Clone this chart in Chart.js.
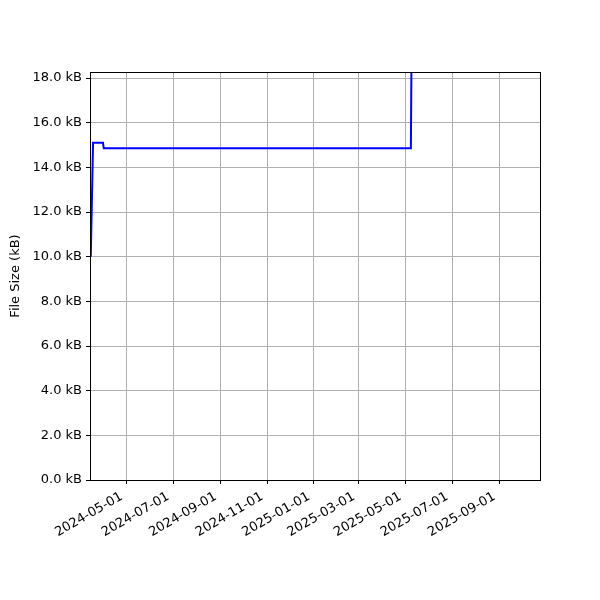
<!DOCTYPE html>
<html lang="en">
<head>
  <meta charset="UTF-8" />
  <title>File Size</title>
  <script src="https://cdn.jsdelivr.net/npm/chart.js"></script>
  <style>
    body { margin: 0; background: #fff; }
    #wrap { width: 600px; height: 600px; }
  </style>
</head>
<body>
  <div id="wrap">
    <canvas id="sizeChart" width="600" height="600"></canvas>
  </div>

  <script>
    // data
    const dates = ['2024-03-15', '2024-03-18', '2024-03-31', '2024-04-01', '2025-05-08', '2025-05-09'];
    const sizesKB = [10.0, 15.1, 15.1, 14.85, 14.85, 20.0];
    const tickDates = ['2024-05-01', '2024-07-01', '2024-09-01', '2024-11-01', '2025-01-01',
                       '2025-03-01', '2025-05-01', '2025-07-01', '2025-09-01'];
    const xRange = ['2024-03-14', '2025-10-24'];
    const yMax = 18.27;

    const toMs = d => Date.parse(d + 'T00:00:00Z');
    const pad2 = n => String(n).padStart(2, '0');
    const fmtDate = ms => {
      const d = new Date(ms);
      return d.getUTCFullYear() + '-' + pad2(d.getUTCMonth() + 1) + '-' + pad2(d.getUTCDate());
    };

    const points = dates.map((d, i) => ({ x: toMs(d), y: sizesKB[i] }));

    // box round the plot area, like matplotlib spines
    const frame = {
      id: 'frame',
      afterDraw(chart) {
        const a = chart.chartArea;
        const ctx = chart.ctx;
        ctx.save();
        ctx.strokeStyle = '#000';
        ctx.lineWidth = 1;
        ctx.strokeRect(a.left + 0.5, a.top + 0.5, a.right - a.left, a.bottom - a.top);
        ctx.restore();
      }
    };

    const font = { family: 'DejaVu Sans', size: 13 };
    Chart.defaults.color = '#000';

    new Chart(document.getElementById('sizeChart').getContext('2d'), {
      type: 'line',
      data: {
        datasets: [{
          data: points,
          borderColor: '#0000ff',
          borderWidth: 2,
          pointRadius: 0,
          tension: 0,
          fill: false
        }]
      },
      options: {
        responsive: false,
        animation: false,
        layout: { padding: { top: 72, right: 60, left: 0, bottom: 0 } },
        plugins: { legend: { display: false }, tooltip: { enabled: false } },
        scales: {
          x: {
            type: 'linear',
            min: toMs(xRange[0]),
            max: toMs(xRange[1]),
            afterBuildTicks: s => { s.ticks = tickDates.map(d => ({ value: toMs(d) })); },
            afterFit: s => { s.height = 120; },
            grid: { color: '#b0b0b0', tickColor: '#000', tickLength: 4 },
            border: { color: '#000' },
            ticks: {
              font: font,
              minRotation: 30,
              maxRotation: 30,
              autoSkip: false,
              padding: 5,
              labelOffset: -5,
              callback: v => fmtDate(v)
            }
          },
          y: {
            min: 0,
            max: yMax,
            afterFit: s => { s.width = 90; },
            grid: { color: '#b0b0b0', tickColor: '#000', tickLength: 4 },
            border: { color: '#000' },
            ticks: {
              font: font,
              stepSize: 2,
              includeBounds: false,
              padding: 4,
              callback: v => v.toFixed(1) + ' kB'
            },
            title: {
              display: true,
              text: 'File Size (kB)',
              font: font,
              padding: { top: 8, bottom: 4 }
            }
          }
        }
      },
      plugins: [frame]
    });
  </script>
</body>
</html>
